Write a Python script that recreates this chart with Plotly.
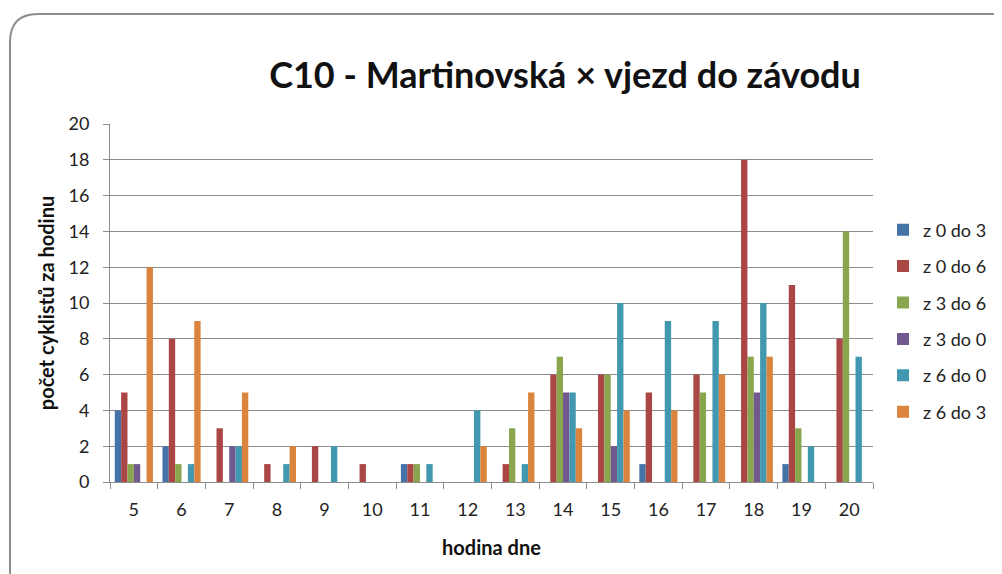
import plotly.graph_objects as go

hours = ["5", "6", "7", "8", "9", "10", "11", "12", "13", "14", "15", "16", "17", "18", "19", "20"]
series_names = ["z 0 do 3", "z 0 do 6", "z 3 do 6", "z 3 do 0", "z 6 do 0", "z 6 do 3"]
z0do3 = [4, 2, 0, 0, 0, 0, 1, 0, 0, 0, 0, 1, 0, 0, 1, 0]
z0do6 = [5, 8, 3, 1, 2, 1, 1, 0, 1, 6, 6, 5, 6, 18, 11, 8]
z3do6 = [1, 1, 0, 0, 0, 0, 1, 0, 3, 7, 6, 0, 5, 7, 3, 14]
z3do0 = [1, 0, 2, 0, 0, 0, 0, 0, 0, 5, 2, 0, 0, 5, 0, 0]
z6do0 = [0, 1, 2, 1, 2, 0, 1, 4, 1, 5, 10, 9, 9, 10, 2, 7]
z6do3 = [12, 9, 5, 2, 0, 0, 0, 2, 5, 3, 4, 4, 6, 7, 0, 0]
y_ticks = [0, 2, 4, 6, 8, 10, 12, 14, 16, 18, 20]

colors = ["#4572A7", "#AA4643", "#89A54E", "#71588F", "#4198AF", "#DB843D"]
data = [z0do3, z0do6, z3do6, z3do0, z6do0, z6do3]

OFF = 8  # page body margin
W, H = 1002 - OFF, 574 - OFF
# plot area in page pixels
PL, PR, PT, PB = 110, 873, 124, 482
L, R, T, B = PL - OFF, PR - OFF, PT - OFF, PB - OFF

fig = go.Figure()
for name, vals, c in zip(series_names, data, colors):
    fig.add_trace(go.Bar(x=hours, y=vals, name=name, marker=dict(color=c, line=dict(width=0)),
                         legendgroup=name))

font_main = "Lato, 'Open Sans', sans-serif"

def px(x):
    return (x - PL) / (PR - PL)

def py(y):
    return (PB - y) / (PB - PT)

r = 28
x0, y0 = 10, 14
path = (f"M {px(x0)} {py(600)} L {px(x0)} {py(y0 + r)} "
        f"Q {px(x0)} {py(y0)} {px(x0 + r)} {py(y0)} L {px(1030)} {py(y0)}")

fig.update_layout(
    width=W, height=H,
    margin=dict(l=L, r=W - R, t=T, b=H - B, autoexpand=False),
    paper_bgcolor="white", plot_bgcolor="white",
    barmode="group", bargap=0.2, bargroupgap=0,
    font=dict(family=font_main, size=18, color="#222"),
    title=dict(text="<b>C10 - Martinovská × vjezd do závodu</b>",
               font=dict(size=36, color="#111", family=font_main),
               x=(565 - OFF) / W, xanchor="center", y=1 - (75 - OFF) / H, yanchor="middle"),
    showlegend=True,
    legend=dict(x=px(883), xanchor="left", y=py(321), yanchor="middle",
                font=dict(size=18, color="#222"), tracegroupgap=10, itemwidth=30,
                bgcolor="rgba(0,0,0,0)"),
    shapes=[dict(type="path", path=path, xref="paper", yref="paper",
                 line=dict(color="#8c8c8c", width=2), layer="above")],
    xaxis=dict(type="category", showline=True, linecolor="#8c8c8c", linewidth=1, automargin=False,
               ticks="outside", tickson="boundaries", ticklen=6, tickcolor="#8c8c8c",
               tickfont=dict(size=18, color="#222"), ticklabelstandoff=11,
               title=dict(text="<b>hodina dne</b>", font=dict(size=20, color="#111"), standoff=22),
               showgrid=False),
    yaxis=dict(range=[0, 20], tickvals=y_ticks, showline=True, linecolor="#8c8c8c", linewidth=1,
               automargin=False,
               ticks="outside", ticklen=6, tickcolor="#8c8c8c",
               gridcolor="#8c8c8c", gridwidth=1, zeroline=False,
               tickfont=dict(size=18, color="#222"), ticklabelstandoff=10,
               title=dict(text="<b>počet cyklistů za hodinu</b>", font=dict(size=20, color="#111"), standoff=8)),
)

fig.write_html("out.html")
